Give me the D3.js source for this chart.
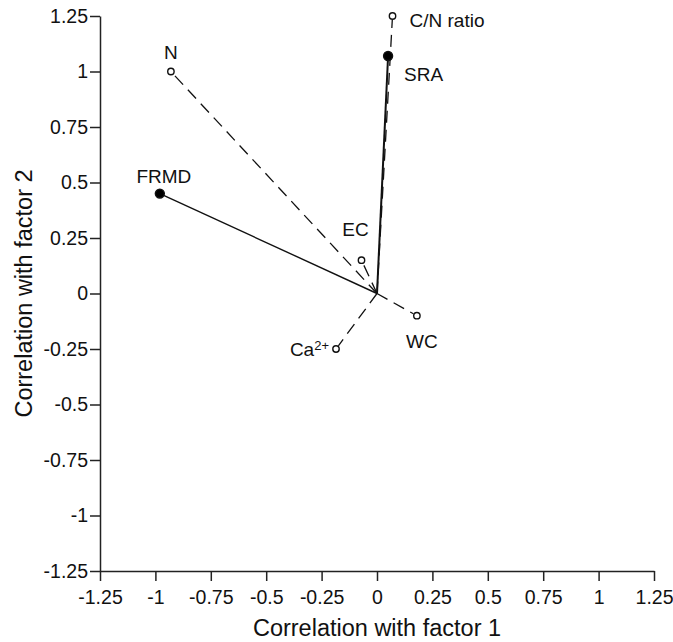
<!DOCTYPE html>
<html>
<head>
<meta charset="utf-8">
<script src="https://cdnjs.cloudflare.com/ajax/libs/d3/7.8.5/d3.min.js"></script>
<style>
    body { margin: 0; background: #fff; }
    svg { font-family: "Liberation Sans", Arial, sans-serif; }
    .tick text { font-size: 19.5px; }
</style>
</head>
<body>
<div class="vis"></div>
<script>
// loadings of each variable on factor 1 / factor 2
var names = ["C/N ratio", "SRA", "N", "FRMD", "EC", "WC", "Ca"];
var factor1 = [0.07, 0.05, -0.93, -0.98, -0.07, 0.18, -0.185];
var factor2 = [1.25, 1.07, 1.0, 0.45, 0.15, -0.10, -0.25];
var filled = [false, true, false, true, false, false, false];
var tickValues = [-1.25, -1, -0.75, -0.5, -0.25, 0, 0.25, 0.5, 0.75, 1, 1.25];
var tickLabels = ["-1.25", "-1", "-0.75", "-0.5", "-0.25", "0", "0.25", "0.5", "0.75", "1", "1.25"];

var width = 673,
    height = 642;

var data = names.map(function (n, i) {
    return {name: n, x: factor1[i], y: factor2[i], filled: filled[i]};
});

// label placement relative to the point (dx, dy, anchor)
var labelPos = {
    "C/N ratio": [17, 11, "start"],
    "SRA": [16, 25, "start"],
    "N": [0, -13, "middle"],
    "FRMD": [4, -11, "middle"],
    "EC": [-6, -24, "middle"],
    "WC": [5, 32, "middle"],
    "Ca": [-7, 7, "end"]
};

var x = d3.scaleLinear()
    .domain([-1.25, 1.25])
    .range([100, 654]);

var y = d3.scaleLinear()
    .domain([-1.25, 1.25])
    .range([571, 16]);

var svg = d3.select('.vis').append("svg")
    .attr("width", width)
    .attr("height", height);

//axes
var xAxis = d3.axisBottom(x)
    .tickValues(tickValues)
    .tickFormat(function (d, i) { return tickLabels[i]; })
    .tickSize(10)
    .tickSizeOuter(0)
    .tickPadding(7);

var yAxis = d3.axisLeft(y)
    .tickValues(tickValues)
    .tickFormat(function (d, i) { return tickLabels[i]; })
    .tickSize(10)
    .tickSizeOuter(0)
    .tickPadding(2);

var gx = svg.append("g")
    .attr("transform", "translate(0," + y(-1.25) + ")")
    .call(xAxis);

var gy = svg.append("g")
    .attr("transform", "translate(" + x(-1.25) + ",0)")
    .call(yAxis);

[gx, gy].forEach(function (g) {
    g.attr("font-size", null).attr("font-family", null);
    g.selectAll("path, line").attr("stroke", "#222").attr("stroke-width", 1.5);
    g.selectAll("text").attr("fill", "#111");
});
gx.selectAll("text").attr("dy", "0.8em");

svg.append("text")
    .attr("x", (x(-1.25) + x(1.25)) / 2)
    .attr("y", 636)
    .attr("text-anchor", "middle")
    .style("font-size", "23.5px")
    .attr("fill", "#111")
    .text("Correlation with factor 1");

svg.append("text")
    .attr("transform", "translate(32," + ((y(-1.25) + y(1.25)) / 2) + ") rotate(-90)")
    .attr("text-anchor", "middle")
    .style("font-size", "23.5px")
    .attr("fill", "#111")
    .text("Correlation with factor 2");

// vectors from the origin
var vectors = svg.append("g");

vectors.selectAll(".vec")
    .data(data)
    .enter()
    .append("line")
    .attr("class", "vec")
    .attr("x1", x(0))
    .attr("y1", y(0))
    .attr("x2", function (d) {
        var r = d.filled ? 0 : 4 / Math.hypot(x(d.x) - x(0), y(d.y) - y(0));
        return x(d.x) - (x(d.x) - x(0)) * r;
    })
    .attr("y2", function (d) {
        var r = d.filled ? 0 : 4 / Math.hypot(x(d.x) - x(0), y(d.y) - y(0));
        return y(d.y) - (y(d.y) - y(0)) * r;
    })
    .attr("stroke", "#111")
    .attr("stroke-width", function (d) {
        if (d.name == "SRA") return 2;
        return d.filled ? 1.4 : 1.3;
    })
    .attr("stroke-dasharray", function (d) {
        return d.filled ? null : "12,7";
    });

vectors.selectAll(".pt")
    .data(data)
    .enter()
    .append("circle")
    .attr("class", "pt")
    .attr("cx", function (d) { return x(d.x); })
    .attr("cy", function (d) { return y(d.y); })
    .attr("r", function (d) { return d.filled ? 4.5 : 3.2; })
    .attr("fill", function (d) { return d.filled ? "#000" : "#fff"; })
    .attr("stroke", "#111")
    .attr("stroke-width", 1.4);

var labels = svg.append("g").selectAll(".lbl")
    .data(data)
    .enter()
    .append("text")
    .attr("class", "lbl")
    .attr("x", function (d) { return x(d.x) + labelPos[d.name][0]; })
    .attr("y", function (d) { return y(d.y) + labelPos[d.name][1]; })
    .attr("text-anchor", function (d) { return labelPos[d.name][2]; })
    .style("font-size", "19px")
    .attr("fill", "#111");

labels.append("tspan").text(function (d) { return d.name; });
labels.filter(function (d) { return d.name == "Ca"; })
    .append("tspan")
    .attr("dy", "-0.45em")
    .style("font-size", "13px")
    .text("2+");
</script>
</body>
</html>
